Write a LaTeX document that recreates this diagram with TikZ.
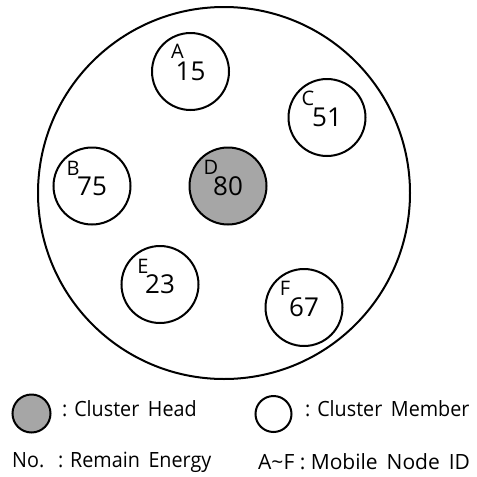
\documentclass[tikz,border=0pt]{standalone}
\usepackage{fontspec}
\setmainfont{Open Sans}
\newfontfamily\narrowfont[FakeStretch=0.94]{Open Sans}
\usetikzlibrary{calc}
\definecolor{headfill}{RGB}{166,166,166}
\begin{document}
\begin{tikzpicture}[x=1pt,y=-1pt,
  ring/.style={circle,draw,line width=2pt,minimum size=77pt,inner sep=0pt,
    font=\fontsize{26}{26}\selectfont},
  member/.style={ring,fill=white},
  head/.style={ring,fill=headfill},
  nodeid/.style={inner sep=0pt,font=\fontsize{20}{20}\selectfont},
  legendtext/.style={anchor=west,inner sep=0pt,font=\narrowfont\fontsize{21}{21}\selectfont}]
\useasboundingbox (0,0) rectangle (477,477);
% cluster boundary
\node[circle,draw,line width=2pt,minimum size=372pt,inner sep=0pt] (cluster) at (224,193) {};
% mobile nodes with remaining energy
\node[member] (A) at (190.5,71.5) {15};
\node[member] (C) at (327,117.5) {51};
\node[member] (B) at (92,186) {75};
\node[head]   (D) at (228,186) {80};
\node[member] (E) at (160,284.5) {23};
\node[member] (F) at (304,307.5) {67};
% node identifiers
\node[nodeid] (idA) at ($(A)+(-13,-20)$) {A};
\node[nodeid] (idC) at ($(C)+(-19,-19)$) {C};
\node[nodeid] (idB) at ($(B)+(-19,-18)$) {B};
\node[nodeid] (idD) at ($(D)+(-17,-19)$) {D};
\node[nodeid] (idE) at ($(E)+(-17,-18)$) {E};
\node[nodeid] (idF) at ($(F)+(-19,-19)$) {F};
% legend
\node[circle,draw,line width=2pt,fill=headfill,minimum size=38pt,inner sep=0pt] (lhead) at (31.5,413.5) {};
\node[legendtext] (thead) at (62,409) {: Cluster\, Head};
\node[circle,draw,line width=2pt,fill=white,minimum size=36pt,inner sep=0pt] (lmember) at (273.5,414) {};
\node[legendtext] (tmember) at (305,409) {: Cluster\, Member};
\node[legendtext] (tno) at (12,462) {No.\,\, : Remain\, Energy};
\node[legendtext,font=\fontsize{21}{21}\selectfont] (tid) at (258,462) {A\textasciitilde F : Mobile\, Node\, ID};
\end{tikzpicture}
\end{document}
